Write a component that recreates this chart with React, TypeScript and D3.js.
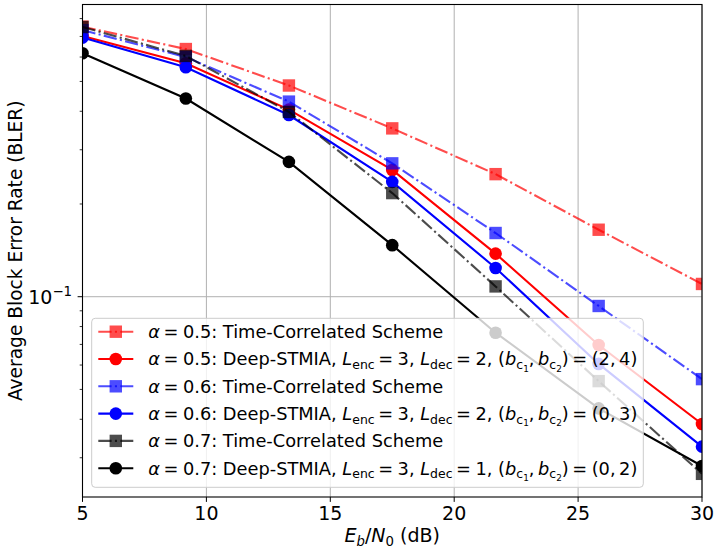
import * as d3 from 'd3';

// Eb/N0 sweep (dB)
const EBN0 = [5, 9.17, 13.33, 17.5, 21.67, 25.83, 30];

// average BLER per alpha: time-correlated baseline vs Deep-STMIA
const TC_A05 = [0.753, 0.637, 0.485, 0.352, 0.25, 0.165, 0.11];
const DS_A05 = [0.702, 0.573, 0.405, 0.258, 0.138, 0.0697, 0.0386];
const TC_A06 = [0.734, 0.6, 0.43, 0.271, 0.161, 0.0933, 0.054];
const DS_A06 = [0.694, 0.556, 0.389, 0.236, 0.124, 0.0605, 0.0326];
const TC_A07 = [0.751, 0.605, 0.398, 0.217, 0.108, 0.0532, 0.0266];
const DS_A07 = [0.617, 0.44, 0.274, 0.147, 0.0764, 0.0434, 0.0282];

const ALPHAS = ['0.5', '0.6', '0.7'];
const L_DEC = ['2', '2', '1'];
const B_C = [['2', '4'], ['0', '3'], ['0', '2']];
const COLORS = ['#ff0000', '#0000ff', '#000000'];

const X_TICKS = [5, 10, 15, 20, 25, 30];
const Y_MINOR = [0.03, 0.04, 0.05, 0.06, 0.07, 0.08, 0.09, 0.2, 0.3, 0.4, 0.5, 0.6, 0.7, 0.8];

const W = 719;
const H = 551;
const FONT = '"DejaVu Sans", sans-serif';
const DASHDOT = '13.3,3.3,2.1,3.3';
const TICK_FS = 19;
const LEG_FS = 17.8;

const x = d3.scaleLinear().domain([5, 30]).range([82.5, 702]);
const y = d3.scaleLog().domain([0.02237, 0.8887]).range([497, 4.5]);

type Series = { values: number[]; color: string; tc: boolean; idx: number };

const SERIES: Series[] = [
  { values: TC_A05, color: COLORS[0], tc: true, idx: 0 },
  { values: DS_A05, color: COLORS[0], tc: false, idx: 0 },
  { values: TC_A06, color: COLORS[1], tc: true, idx: 1 },
  { values: DS_A06, color: COLORS[1], tc: false, idx: 1 },
  { values: TC_A07, color: COLORS[2], tc: true, idx: 2 },
  { values: DS_A07, color: COLORS[2], tc: false, idx: 2 },
];

const line = d3
  .line<[number, number]>()
  .x((d) => x(d[0]))
  .y((d) => y(d[1]));

function Marker({ cx, cy, s }: { cx: number; cy: number; s: Series }) {
  if (s.tc) {
    return (
      <rect x={cx - 6.2} y={cy - 6.2} width={12.4} height={12.4} fill={s.color} fillOpacity={0.7} />
    );
  }
  return <circle cx={cx} cy={cy} r={6.3} fill={s.color} />;
}

// math "=" gets a thin space before and a wider one after
const TH = '\u2009';
const EQ = `${TH}=\u2005`;

function Label({ s }: { s: Series }) {
  const a = ALPHAS[s.idx];
  const head = [
    <tspan key="a" fontStyle="italic">α</tspan>,
    <tspan key="eq">{`${EQ}${a}: `}</tspan>,
  ];
  if (s.tc) {
    return (
      <>
        {head}
        <tspan>Time-Correlated Scheme</tspan>
      </>
    );
  }
  const [b1, b2] = B_C[s.idx];
  const sub = LEG_FS * 0.7;
  const sub2 = LEG_FS * 0.5;
  const d1 = LEG_FS * 0.2;
  const d2 = LEG_FS * 0.15;
  return (
    <>
      {head}
      <tspan>Deep-STMIA, </tspan>
      <tspan fontStyle="italic">L</tspan>
      <tspan fontSize={sub} dy={d1}>enc</tspan>
      <tspan dy={-d1}>{`${EQ}3, `}</tspan>
      <tspan fontStyle="italic">L</tspan>
      <tspan fontSize={sub} dy={d1}>dec</tspan>
      <tspan dy={-d1}>{`${EQ}${L_DEC[s.idx]}, (`}</tspan>
      <tspan fontStyle="italic">b</tspan>
      <tspan fontSize={sub} dy={d1}>c</tspan>
      <tspan fontSize={sub2} dy={d2}>1</tspan>
      <tspan dy={-d1 - d2}>{`,${TH}`}</tspan>
      <tspan fontStyle="italic">b</tspan>
      <tspan fontSize={sub} dy={d1}>c</tspan>
      <tspan fontSize={sub2} dy={d2}>2</tspan>
      <tspan dy={-d1 - d2}>{`)${EQ}(${b1},${TH}${b2})`}</tspan>
    </>
  );
}

export default function App() {
  const [x0, x1] = x.range();
  const [yb, yt] = y.range();
  const legend = { x: 91.7, y: 318.3, w: 551.6, h: 169, row0: 331.7, step: 27.3 };

  return (
    <svg
      width={W}
      height={H}
      style={{ position: 'absolute', left: 0, top: 0, background: '#fff' }}
      fontFamily={FONT}
    >
      <defs>
        <clipPath id="plot">
          <rect x={x0} y={yt} width={x1 - x0} height={yb - yt} />
        </clipPath>
      </defs>

      {/* grid */}
      <g stroke="#b0b0b0" strokeWidth={1}>
        {X_TICKS.map((t) => (
          <line key={t} x1={x(t)} x2={x(t)} y1={yt} y2={yb} />
        ))}
        <line x1={x0} x2={x1} y1={y(0.1)} y2={y(0.1)} />
      </g>

      {/* curves */}
      <g clipPath="url(#plot)">
        {SERIES.map((s, i) => {
          const pts = EBN0.map((e, j) => [e, s.values[j]] as [number, number]);
          return (
            <g key={i}>
              <path
                d={line(pts) ?? ''}
                fill="none"
                stroke={s.color}
                strokeOpacity={s.tc ? 0.7 : 1}
                strokeWidth={2.1}
                strokeDasharray={s.tc ? DASHDOT : undefined}
              />
              {pts.map((p, j) => (
                <Marker key={j} cx={x(p[0])} cy={y(p[1])} s={s} />
              ))}
            </g>
          );
        })}
      </g>

      {/* frame */}
      <rect x={x0} y={yt} width={x1 - x0} height={yb - yt} fill="none" stroke="#000" strokeWidth={1.1} />

      {/* x axis */}
      <g fontSize={TICK_FS} textAnchor="middle" fill="#000">
        {X_TICKS.map((t) => (
          <g key={t}>
            <line x1={x(t)} x2={x(t)} y1={yb} y2={yb + 4.9} stroke="#000" strokeWidth={1} />
            <text x={x(t)} y={520}>{t}</text>
          </g>
        ))}
        <text x={(x0 + x1) / 2} y={542}>
          <tspan fontStyle="italic">E</tspan>
          <tspan fontSize={TICK_FS * 0.7} dy={4} fontStyle="italic">b</tspan>
          <tspan dy={-4}>/</tspan>
          <tspan fontStyle="italic">N</tspan>
          <tspan fontSize={TICK_FS * 0.7} dy={4}>0</tspan>
          <tspan dy={-4}> (dB)</tspan>
        </text>
      </g>

      {/* y axis */}
      <g fill="#000">
        <line x1={x0 - 4.9} x2={x0} y1={y(0.1)} y2={y(0.1)} stroke="#000" strokeWidth={1} />
        {Y_MINOR.map((t) => (
          <line key={t} x1={x0 - 2.8} x2={x0} y1={y(t)} y2={y(t)} stroke="#000" strokeWidth={0.8} />
        ))}
        <text x={72} y={y(0.1) + 6.8} fontSize={TICK_FS} textAnchor="end">
          10
          <tspan fontSize={TICK_FS * 0.7} dy={-7.5}>−1</tspan>
        </text>
        <text transform={`translate(21.5,${(yt + yb) / 2}) rotate(-90)`} fontSize={18.6} textAnchor="middle">
          Average Block Error Rate (BLER)
        </text>
      </g>

      {/* legend */}
      <g>
        <rect
          x={legend.x}
          y={legend.y}
          width={legend.w}
          height={legend.h}
          rx={3.5}
          fill="#fff"
          fillOpacity={0.8}
          stroke="#cccccc"
          strokeWidth={1}
        />
        {SERIES.map((s, i) => {
          const cy = legend.row0 + i * legend.step;
          return (
            <g key={i}>
              <line
                x1={98.3}
                x2={133.3}
                y1={cy}
                y2={cy}
                stroke={s.color}
                strokeOpacity={s.tc ? 0.7 : 1}
                strokeWidth={2.1}
                strokeDasharray={s.tc ? DASHDOT : undefined}
              />
              <Marker cx={115.8} cy={cy} s={s} />
              <text x={148.3} y={cy + 6.4} fontSize={LEG_FS} fill="#000">
                <Label s={s} />
              </text>
            </g>
          );
        })}
      </g>
    </svg>
  );
}
